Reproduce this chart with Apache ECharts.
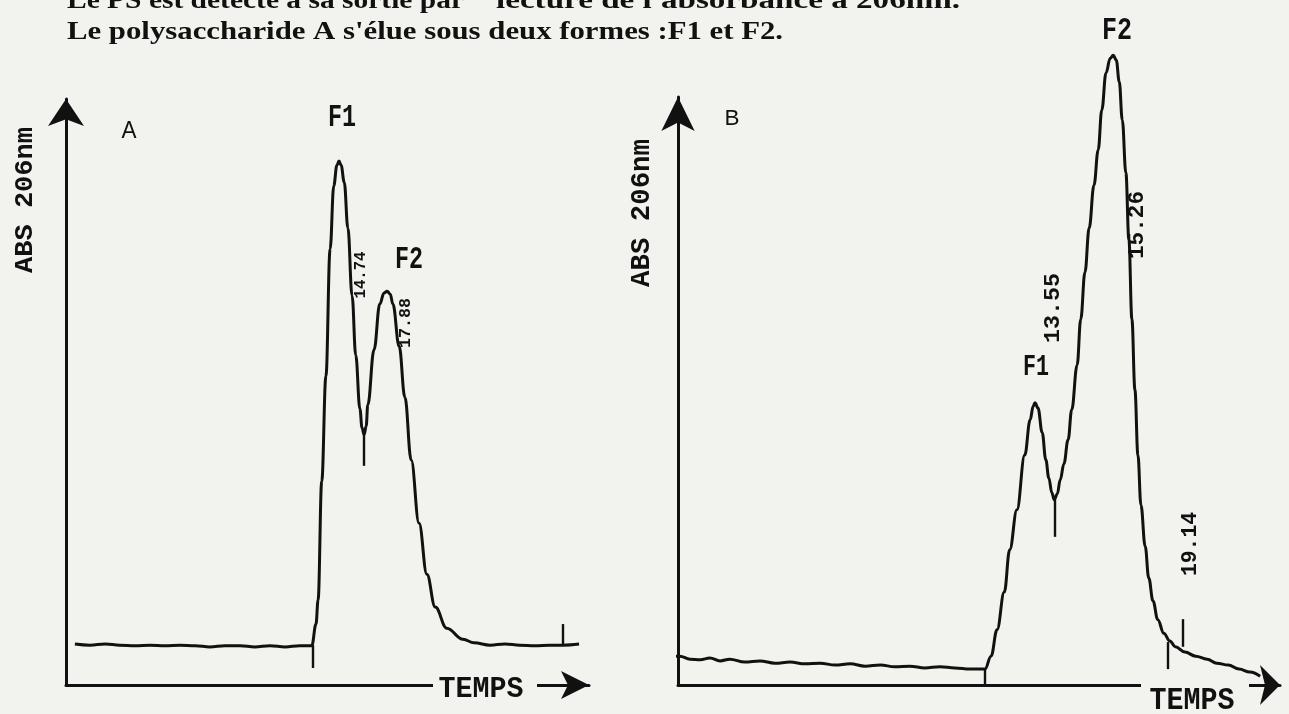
<!DOCTYPE html>
<html><head><meta charset="utf-8">
<script src="https://cdn.jsdelivr.net/npm/echarts@6/dist/echarts.min.js"></script>
<style>html,body{margin:0;padding:0;background:#f2f2ee;overflow:hidden}#c{width:1289px;height:714px}</style>
</head><body><div id="c"></div>
<script>
// ---------- data (time: arbitrary units 0-100, absorbance: arbitrary units 0-100) ----------
const timeA = [1.7,4.6,7.5,10.3,13.2,16.1,18.9,21.8,24.7,27.5,30.4,33.3,36.1,39.0,41.9,44.7,47.0,
  47.8,48.2,48.9,49.7,50.5,51.2,51.8,52.2,52.6,53.2,53.9,54.7,55.4,56.2,56.6,57.0,57.4,57.7,58.9,60.0,60.8,
  61.4,62.0,62.5,63.7,64.8,66.0,67.5,69.0,70.6,72.8,75.9,78.0,81.1,83.9,86.8,89.7,92.5,95.0,98.1];
const absA = [7.0,6.8,7.0,6.8,6.7,6.8,6.7,6.8,6.7,6.5,6.7,6.7,6.5,6.7,6.5,6.7,6.7,
  10.4,14.5,34.8,52.7,74.4,85.2,88.7,89.4,88.7,85.8,78.0,66.4,56.3,47.1,43.9,42.7,44.2,47.8,57.2,65.0,66.9,
  67.2,66.7,65.0,57.8,49.1,38.4,27.6,18.9,13.3,9.7,7.8,7.2,6.8,7.0,6.8,6.7,6.8,6.8,7.0];
const timeB = [-0.8,0.3,2.0,3.7,5.3,7.0,8.6,11.1,13.6,16.1,18.6,21.1,23.6,26.1,28.6,31.1,33.6,36.0,38.5,41.0,43.5,46.0,48.5,51.0,
  52.0,53.0,54.2,55.1,56.3,57.6,58.5,59.0,59.3,59.8,60.5,61.1,61.6,62.1,62.5,63.0,63.5,64.1,64.8,65.4,66.3,66.9,67.6,68.3,69.1,69.8,70.4,
  71.1,71.8,72.3,72.8,73.3,73.8,74.4,74.9,75.4,75.9,76.4,76.9,77.6,78.2,78.9,79.7,80.7,81.7,82.6,84.2,86.0,87.9,89.5,91.4,93.2,95.0,96.7];
const absB = [4.9,4.9,4.4,4.3,4.6,4.1,4.4,3.9,4.1,3.7,3.9,3.6,3.7,3.4,3.6,3.2,3.4,3.1,3.2,2.9,3.1,2.9,2.7,2.7,
  4.9,9.4,15.8,23.0,29.8,39.1,45.1,47.4,48.0,47.1,42.9,38.3,35.2,32.7,31.5,32.5,34.9,37.6,41.7,46.8,54.4,62.2,70.2,77.7,85.0,91.0,97.8,
  104.1,106.6,107.1,106.3,102.6,96.1,87.1,75.7,62.2,50.2,39.1,30.6,23.6,18.2,14.3,11.1,8.8,7.5,6.5,5.6,4.9,4.4,3.7,3.4,2.7,2.2,1.5];
// integrator marks: time, top, bottom
const markTimeA = [47.2, 57.0, 95.0];
const markTopA = [6.8, 42.7, 10.4];
const markBotA = [2.9, 37.4, 6.8];
const markTimeB = [51.0, 62.5, 81.4, 83.9];
const markTopB = [2.7, 31.5, 7.3, 11.2];
const markBotB = [0.0, 25.2, 2.7, 6.5];
// texts
const panelNames = ['A', 'B'];
const peakNames = ['F1', 'F2'];
const retentionA = ['14.74', '17.88'];
const retentionB = ['13.55', '15.26', '19.14'];
const yTitle = 'ABS 206nm';
const xTitle = 'TEMPS';
const headLines = ['Le PS est détecté à sa sortie par', "lecture de l'absorbance à 206nm.",
  "Le polysaccharide A s'élue sous deux formes :F1 et F2."];

// ---------- rendering ----------
const ink = '#111111', paper = '#f2f2ee';
const chart = echarts.init(document.getElementById('c'), null, {renderer: 'canvas'});
const mctx = document.createElement('canvas').getContext('2d');
function measure(t, font) { mctx.font = font; return mctx.measureText(t).width; }
const MONO = '"Liberation Mono", "DejaVu Sans Mono", monospace';
const SERIF = '"Liberation Serif", "DejaVu Serif", serif';
const SANS = '"Liberation Sans", "DejaVu Sans", sans-serif';
function label(t, x, y, size, family, targetW, opts) {
  const font = (opts && opts.weight || 'bold') + ' ' + size + 'px ' + family;
  const w = measure(t, font);
  return {
    type: 'text', x: x, y: y, z: 100, silent: true,
    rotation: (opts && opts.rot) || 0,
    scaleX: targetW ? targetW / w : 1,
    style: {text: t, font: font, fill: ink, align: (opts && opts.align) || 'center', verticalAlign: 'middle'}
  };
}
function pairs(xs, ys) { return xs.map((x, i) => [x, ys[i]]); }
function marks(ts, tops, bots) { return ts.map((t, i) => [{coord: [t, tops[i]]}, {coord: [t, bots[i]]}]); }
const axisStyle = {color: ink, width: 3};
function ax(gi, arrowSize) {
  return {type: 'value', gridIndex: gi, min: 0, max: 100, axisTick: {show: false}, axisLabel: {show: false}, splitLine: {show: false},
    axisLine: {show: true, onZero: false, symbol: ['none', 'arrow'], symbolSize: arrowSize, lineStyle: axisStyle}};
}
function trace(idx, xs, ys, mt, mtop, mbot) {
  return {type: 'line', xAxisIndex: idx, yAxisIndex: idx, data: pairs(xs, ys), symbol: 'none', showSymbol: false,
    smooth: 0.4, smoothMonotone: 'x', clip: false, silent: true,
    lineStyle: {color: ink, width: 3},
    markLine: {silent: true, symbol: ['none', 'none'], label: {show: false}, animation: false,
      lineStyle: {color: ink, width: 2.4, type: 'solid'}, emphasis: {disabled: true},
      data: marks(mt, mtop, mbot)}};
}
const option = {
  backgroundColor: paper,
  animation: false,
  grid: [
    {left: 66, top: 99, width: 523, bottom: 29},
    {left: 678, top: 97, right: 9, bottom: 29}
  ],
  xAxis: [ax(0, [21, 28]), ax(1, [30, 20])],
  yAxis: [ax(0, [27, 27]), ax(1, [25, 34])],
  series: [
    trace(0, timeA, absA, markTimeA, markTopA, markBotA),
    trace(1, timeB, absB, markTimeB, markTopB, markBotB)
  ],
  graphic: [
    // header text
    label(headLines[0], 67, 1, 26, SERIF, 397, {align: 'left'}),
    label(headLines[1], 496, 1, 26, SERIF, 464, {align: 'left'}),
    label(headLines[2], 67, 32, 26, SERIF, 716, {align: 'left'}),
    // panel A
    label(panelNames[0], 129, 131, 24, SANS, 15, {weight: 'normal'}),
    label(yTitle, 25, 200, 26, MONO, 146, {rot: Math.PI / 2}),
    label(peakNames[0], 342, 118, 32, MONO, 28),
    label(peakNames[1], 409, 260, 32, MONO, 28),
    label(retentionA[0], 361, 275, 16, MONO, 47, {rot: Math.PI / 2}),
    label(retentionA[1], 406, 323, 16, MONO, 50, {rot: Math.PI / 2}),
    {type: 'rect', z: 99, silent: true, shape: {x: 433, y: 678, width: 104, height: 14}, style: {fill: paper}},
    label(xTitle, 481, 689, 30, MONO, 85),
    // panel B
    label(panelNames[1], 732, 119, 22, SANS, 15, {weight: 'normal'}),
    label(yTitle, 642, 213, 27, MONO, 148, {rot: Math.PI / 2}),
    label(peakNames[1], 1117, 31, 32, MONO, 30),
    label(peakNames[0], 1036, 367, 30, MONO, 26),
    label(retentionB[0], 1053, 308, 22, MONO, 70, {rot: Math.PI / 2}),
    label(retentionB[1], 1137, 225, 22, MONO, 68, {rot: Math.PI / 2}),
    label(retentionB[2], 1190, 544, 22, MONO, 64, {rot: Math.PI / 2}),
    {type: 'rect', z: 99, silent: true, shape: {x: 1141, y: 679, width: 108, height: 12}, style: {fill: paper}},
    label(xTitle, 1192, 701, 32, MONO, 85)
  ]
};
chart.setOption(option);
</script>
</body></html>
